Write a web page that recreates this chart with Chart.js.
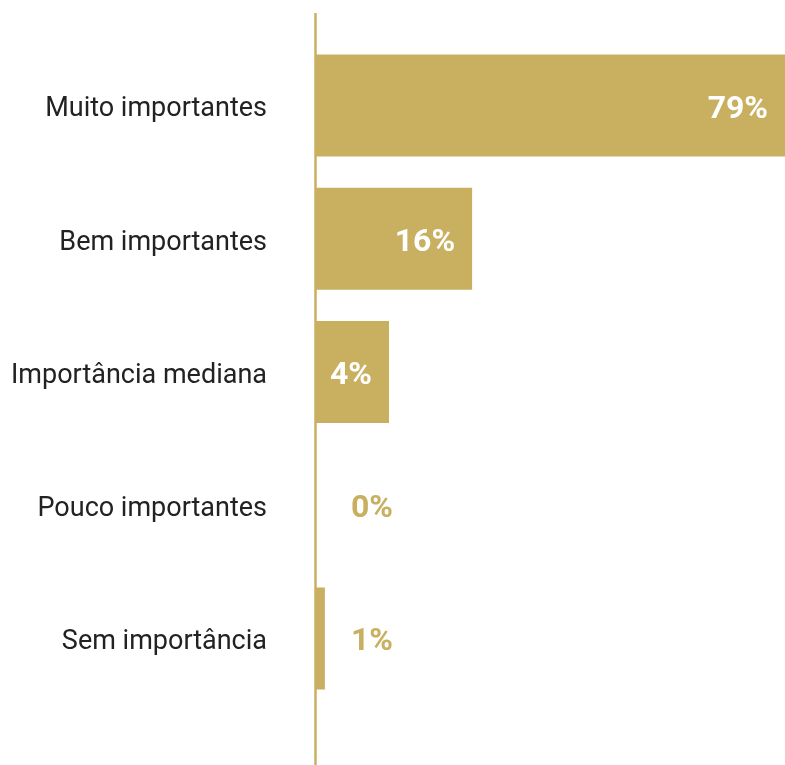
<!DOCTYPE html>
<html>
<head>
<meta charset="utf-8">
<script src="https://cdn.jsdelivr.net/npm/chart.js@4.4.1/dist/chart.umd.min.js"></script>
<style>
  html, body { margin: 0; padding: 0; background: #fff; }
  #wrap { width: 785px; height: 765px; }
</style>
</head>
<body>
<div id="wrap"><canvas id="chart"></canvas></div>
<script>
const categories = ['Muito importantes', 'Bem importantes', 'Importância mediana', 'Pouco importantes', 'Sem importância'];
// bar lengths as drawn in the picture (axis runs 0..79)
const barLengths = [79, 26.3, 12.3, 0, 1.5];
const percentLabels = ['79%', '16%', '4%', '0%', '1%'];

const gold = '#c8b060';

// vertical axis line, longer than the plot area
const axisLine = {
  id: 'axisLine',
  afterDatasetsDraw(chart) {
    const ctx = chart.ctx;
    const x = chart.scales.x.getPixelForValue(0);
    ctx.save();
    ctx.strokeStyle = gold;
    ctx.lineWidth = 2.5;
    ctx.beginPath();
    ctx.moveTo(x - 0.5, 13);
    ctx.lineTo(x - 0.5, chart.height);
    ctx.stroke();
    ctx.restore();
  },
};

const valueLabels = {
  id: 'valueLabels',
  afterDatasetsDraw(chart) {
    const ctx = chart.ctx;
    const meta = chart.getDatasetMeta(0);
    const left = chart.scales.x.getPixelForValue(0);
    ctx.save();
    ctx.font = 'bold 32px Roboto';
    ctx.textBaseline = 'middle';
    meta.data.forEach((bar, i) => {
      const text = percentLabels[i];
      const w = ctx.measureText(text).width;
      if (bar.x - left > w + 30) {
        ctx.fillStyle = '#ffffff';
        ctx.textAlign = 'right';
        ctx.fillText(text, bar.x - 17, bar.y + 4);
      } else {
        ctx.fillStyle = gold;
        ctx.textAlign = 'left';
        ctx.fillText(text, left + 35, bar.y + 4);
      }
    });
    ctx.restore();
  },
};

new Chart(document.getElementById('chart'), {
  type: 'bar',
  data: {
    labels: categories,
    datasets: [{
      data: barLengths,
      backgroundColor: gold,
      borderWidth: 0,
      categoryPercentage: 1,
      barPercentage: 0.766,
    }],
  },
  options: {
    indexAxis: 'y',
    responsive: true,
    maintainAspectRatio: false,
    animation: false,
    layout: { padding: { top: 39, bottom: 60, left: 0, right: 0 } },
    scales: {
      x: {
        display: false,
        min: 0,
        max: 79,
      },
      y: {
        grid: { display: false, drawTicks: false },
        border: { display: false },
        ticks: {
          color: '#222222',
          font: { family: 'Roboto', size: 27 },
          padding: 49,
          labelOffset: 4,
        },
        afterFit(scale) {
          scale.width = 316;
          scale.paddingTop = 0;
          scale.paddingBottom = 0;
        },
      },
    },
    plugins: {
      legend: { display: false },
      tooltip: { enabled: false },
    },
  },
  plugins: [axisLine, valueLabels],
});
</script>
</body>
</html>
